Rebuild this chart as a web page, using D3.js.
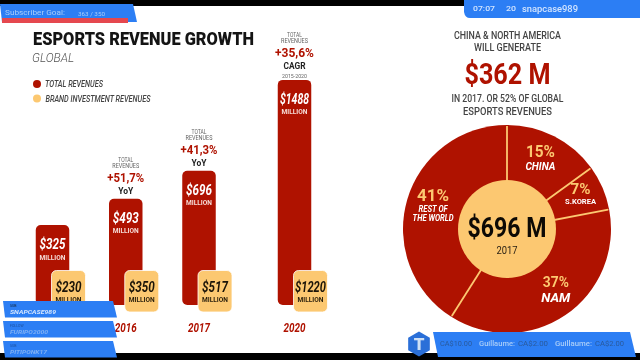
<!DOCTYPE html>
<html lang="en">

<head>
    <meta charset="UTF-8">
    <script src="https://d3js.org/d3.v7.min.js"></script>
    <title>Esports Revenue Growth</title>
    <style>
        html, body { margin: 0; padding: 0; background: #fff; overflow: hidden; }
        svg { display: block; filter: blur(0.35px); }
        text { font-family: Roboto, "Liberation Sans", sans-serif; dominant-baseline: central; }
    </style>
</head>

<body>
    <svg id="chart" width="640" height="360"></svg>

    <script>
        // Data
        const years = [2015, 2016, 2017, 2020];
        const totalRevenues = [325, 493, 696, 1488];
        const brandRevenues = [230, 350, 517, 1220];
        const growthRates = [null, "+51,7%", "+41,3%", "+35,6%"];
        const growthKinds = [null, "YoY", "YoY", "CAGR"];
        const shareNames = ["CHINA", "S.KOREA", "NAM", "REST OF THE WORLD"];
        const shareValues = [15, 7, 37, 41];

        const red = "#af1200";
        const yellow = "#fcc871";
        const blue = "#2c7ef4";

        const svg = d3.select("svg#chart");

        // Small helper, w squeezes the text to the width measured on the picture
        function label(g, str, x, y, size, fill, o = {}) {
            const t = g.append("text")
                .attr("x", x).attr("y", y)
                .attr("text-anchor", o.anchor || "middle")
                .attr("font-size", size)
                .attr("font-weight", o.weight || 400)
                .attr("font-style", o.italic ? "italic" : "normal")
                .attr("fill", fill)
                .text(str);
            if (o.w) t.attr("textLength", o.w).attr("lengthAdjust", "spacingAndGlyphs");
            return t;
        }

        // Bars: the original isn't to a linear scale, it follows a power curve
        const xScale = d3.scaleLinear().domain([2015, 2017, 2020]).range([52.5, 199, 294.5]);
        const yScale = d3.scalePow().exponent(0.68).domain([0, 325]).range([305, 225]);
        const barWidth = 33.5;
        const tileWidth = 34;

        const bars = svg.append("g").attr("id", "bars");
        years.forEach((year, i) => {
            const cx = xScale(year);
            const top = yScale(totalRevenues[i]);
            bars.append("rect")
                .attr("x", cx - barWidth / 2).attr("y", top)
                .attr("width", barWidth).attr("height", 305 - top)
                .attr("rx", 5).attr("fill", red);
            label(bars, "$" + totalRevenues[i], cx, top + 19, 15, "#fff",
                { weight: 700, italic: true, w: i == 3 ? 29 : 26 });
            label(bars, "MILLION", cx, top + 32, 7.5, "#f6dcd6", { weight: 700, w: 26 });

            // Brand investment tile
            bars.append("rect")
                .attr("x", cx - 1).attr("y", 270.5)
                .attr("width", tileWidth).attr("height", 41.5)
                .attr("rx", 5).attr("fill", yellow)
                .attr("stroke", "#fff").attr("stroke-width", 0.8);
            label(bars, "$" + brandRevenues[i], cx + 16, 287, 15, "#1b1408",
                { weight: 700, italic: true, w: i == 3 ? 31 : 26 });
            label(bars, "MILLION", cx + 16, 299, 7.5, "#2a1f0c", { weight: 700, w: 26 });

            // Year under the bar
            label(bars, year, cx, 326.5, 13.5, red, { weight: 700, italic: true, w: 22 });

            // Growth note over the bar, first year has none
            if (growthRates[i]) {
                const base = top - (i == 3 ? 45 : 39);
                const grey = "#666";
                label(bars, "TOTAL", cx, base, 6.5, grey, { w: 15 });
                label(bars, "REVENUES", cx, base + 6.5, 6.5, grey, { w: 27 });
                label(bars, growthRates[i], cx, base + 18, 13, red, { weight: 700, w: i == 3 ? 39 : 37 });
                label(bars, growthKinds[i], cx, base + 31, 8.5, "#222", { weight: 700, w: i == 3 ? 22 : 15 });
                if (i == 3) label(bars, "2015-2020", cx, base + 41, 5.5, grey, { w: 25 });
            }
        });

        // Header and legend
        const header = svg.append("g").attr("id", "header");
        label(header, "ESPORTS REVENUE GROWTH", 33, 38.5, 18.5, "#141414", { anchor: "start", weight: 900, w: 221 });
        label(header, "GLOBAL", 32, 57, 13, "#555", { anchor: "start", italic: true, weight: 300, w: 42 });
        header.append("circle").attr("cx", 37).attr("cy", 84).attr("r", 4).attr("fill", red);
        header.append("circle").attr("cx", 37).attr("cy", 98.5).attr("r", 4).attr("fill", yellow);
        label(header, "TOTAL REVENUES", 45, 84, 8.5, "#444", { anchor: "start", italic: true, weight: 500, w: 58 });
        label(header, "BRAND INVESTMENT REVENUES", 45.5, 98.5, 8.5, "#444", { anchor: "start", italic: true, weight: 500, w: 105 });

        // Right column text
        const side = svg.append("g").attr("id", "side");
        const sideGrey = "#444";
        label(side, "CHINA & NORTH AMERICA", 507.5, 35, 10, sideGrey, { weight: 500, w: 107 });
        label(side, "WILL GENERATE", 507.5, 47.5, 10, sideGrey, { weight: 500, w: 67 });
        label(side, "$362 M", 507.5, 73, 30, red, { weight: 700, w: 86 });
        label(side, "IN 2017. OR 52% OF GLOBAL", 507.5, 98, 10, sideGrey, { weight: 500, w: 112 });
        label(side, "ESPORTS REVENUES", 507.5, 111, 10, sideGrey, { weight: 500, w: 89 });

        // Pie, slices start at 12 o'clock and go clockwise
        const pieX = 507, pieY = 229, outer = 104, inner = 49;
        const pie = svg.append("g").attr("id", "pie").attr("transform", `translate(${pieX},${pieY})`);
        const slices = d3.pie().sort(null)(shareValues);
        const arc = d3.arc().innerRadius(0).outerRadius(outer);
        const labelArc = d3.arc().innerRadius(78).outerRadius(78);

        pie.selectAll("path.slice").data(slices)
            .join("path")
            .attr("class", "slice")
            .attr("d", arc)
            .attr("fill", red);
        // Yellow dividers on the slice edges, stopping just short of the rim
        pie.selectAll("line.divider").data(slices)
            .join("line")
            .attr("class", "divider")
            .attr("x1", 0).attr("y1", 0)
            .attr("x2", d => (outer - 1) * Math.sin(d.startAngle))
            .attr("y2", d => -(outer - 1) * Math.cos(d.startAngle))
            .attr("stroke", yellow)
            .attr("stroke-width", 1.8);
        pie.append("circle").attr("r", inner).attr("fill", yellow);

        label(pie, "$696 M", 0, -1.5, 28.5, "#0d0a05", { weight: 700, w: 79 });
        label(pie, "2017", 0, 21.5, 11, "#2a2215", { w: 21 });

        slices.forEach((s, i) => {
            const [lx, ly] = labelArc.centroid(s);
            const name = shareNames[i];
            const pct = shareValues[i] + "%";
            if (name == "CHINA") {
                label(pie, pct, lx - 2, ly - 8, 16, yellow, { weight: 700, w: 29 });
                label(pie, name, lx - 2, ly + 7, 10.5, "#fff", { weight: 700, italic: true, w: 30 });
            } else if (name == "S.KOREA") {
                label(pie, pct, lx + 2, ly - 9, 14, yellow, { weight: 700, w: 20 });
                label(pie, name, lx + 2, ly + 3, 8, "#fff", { weight: 700, w: 31 });
            } else if (name == "NAM") {
                label(pie, pct, lx + 5, ly - 12, 14, yellow, { weight: 700, w: 26 });
                label(pie, name, lx + 5, ly + 3, 13.5, "#fff", { weight: 700, italic: true, w: 29 });
            } else {
                label(pie, pct, lx + 1, ly - 12, 17, yellow, { weight: 700, w: 32 });
                label(pie, "REST OF", lx + 1, ly + 1.5, 8.5, "#fff", { weight: 700, italic: true, w: 29 });
                label(pie, "THE WORLD", lx + 1, ly + 10.5, 8.5, "#fff", { weight: 700, italic: true, w: 41 });
            }
        });

        // Stream overlay on top of the slide
        const overlay = svg.append("g").attr("id", "overlay");
        const poly = (pts, fill) => overlay.append("polygon").attr("points", pts).attr("fill", fill);
        const lightBlue = "#a9cdf8";

        overlay.append("rect").attr("width", 640).attr("height", 6).attr("fill", "#000");
        overlay.append("rect").attr("y", 353).attr("width", 640).attr("height", 7).attr("fill", "#000");

        poly("0,4 133,4 137,22 2,22", blue);
        poly("2,18 128,18 128,23 2,23", "#e5484f");
        label(overlay, "Subscriber Goal:", 5, 12.5, 8, lightBlue, { anchor: "start", w: 60 });
        label(overlay, "363 / 350", 78, 13.5, 6, lightBlue, { anchor: "start", w: 27 });

        overlay.append("path").attr("d", "M464,0 H640 V18 H470 Q465,18 464,12 Z").attr("fill", blue);
        label(overlay, "07:07", 473, 8, 8, "#d3e5ff", { anchor: "start", weight: 500, w: 22 });
        label(overlay, "20", 506, 8, 8, "#d3e5ff", { anchor: "start", weight: 500, w: 10 });
        label(overlay, "snapcase989", 522, 8.5, 8.5, "#d3e5ff", { anchor: "start", weight: 500, w: 56 });

        const feedTops = [301, 321, 341];
        const feedKinds = ["SUB", "FOLLOW", "SUB"];
        const feedNames = ["SNAPCASE989", "FURIPO2000", "PITIPONK17"];
        feedTops.forEach((y, i) => {
            poly(`3,${y} 113,${y} 117,${y + 16.5} 5,${y + 16.5}`, blue);
            label(overlay, feedKinds[i], 10, y + 5, 3.5, i == 0 ? "#123" : "#1b4f9c", { anchor: "start" });
            label(overlay, feedNames[i], 10, y + 10.5, 6, i == 0 ? "#d3e5ff" : "#7fb0f5",
                { anchor: "start", weight: 700, italic: true, w: [46, 38, 37][i] });
        });

        poly("433,332 630,332 636,357 438,357", blue);
        const hex = d3.range(6).map(k => {
            const a = Math.PI / 3 * k;
            return [419 + 12.5 * Math.sin(a), 344 + 12.5 * Math.cos(a)].join(",");
        }).join(" ");
        poly(hex, "#2a6fd8");
        label(overlay, "T", 419, 344, 17, "#cfe0f5", { weight: 900 });

        const tickerDark = "#2a5a9c";
        label(overlay, "CA$10.00", 440, 344, 7, tickerDark, { anchor: "start", w: 32 });
        label(overlay, "Guillaume:", 479, 344, 7, lightBlue, { anchor: "start", weight: 500, w: 36 });
        label(overlay, "CA$2.00", 518, 344, 7, tickerDark, { anchor: "start", w: 30 });
        label(overlay, "Guillaume:", 555, 344, 7, lightBlue, { anchor: "start", weight: 500, w: 37 });
        label(overlay, "CA$2.00", 595, 344, 7, tickerDark, { anchor: "start", w: 29 });
    </script>
</body>

</html>
